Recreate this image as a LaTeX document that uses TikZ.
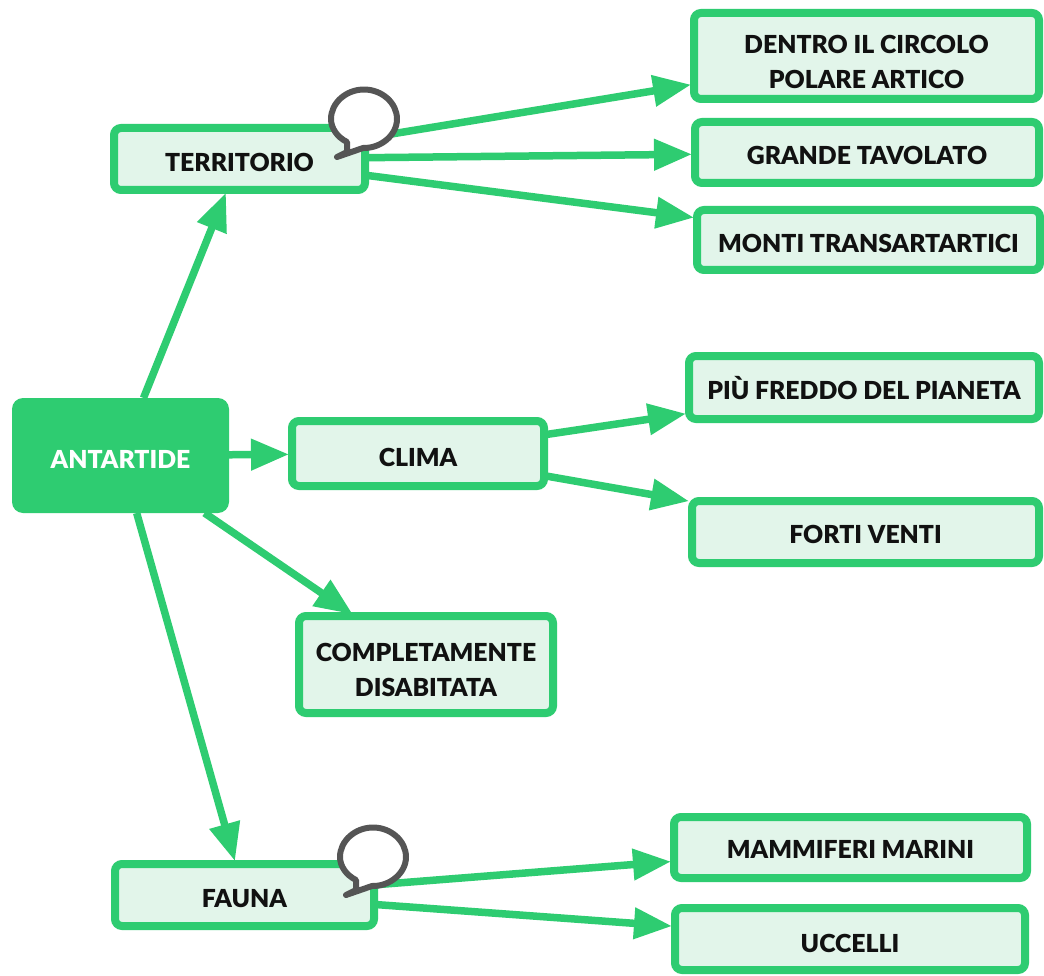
\documentclass[tikz,border=0pt]{standalone}
\usepackage{fontspec}
\setmainfont{Lato}[BoldFont={Lato Black}]
\usetikzlibrary{arrows.meta}
\definecolor{gr}{HTML}{2ECC71}
\definecolor{lgr}{HTML}{E2F5EA}
\definecolor{ink}{HTML}{111111}
\definecolor{bub}{HTML}{555555}
\newcommand{\lone}[2]{\raisebox{-#1pt}[0pt][0pt]{#2}}
\newcommand{\ltwo}[3]{\raisebox{#1pt}[0pt][0pt]{\begin{tabular}[t]{@{}c@{}}#2\\#3\end{tabular}}}
\tikzset{
  x=1pt,y=-1pt,
  box/.style={draw=gr,line width=8pt,fill=lgr,rounded corners=7pt,align=center,text=ink,
    font=\fontsize{24.8}{35}\selectfont\bfseries,outer sep=0pt,inner sep=0pt},
  root/.style={box,draw=none,fill=gr,text=white,rounded corners=11pt},
  link/.style={draw=gr,line width=7.5pt,shorten >=3pt,-{Triangle[length=38pt,width=30pt]}},
  pics/bubble/.style={code={
    \draw[bub,line width=6pt,fill=white,line join=round]
      (-1,29) .. controls (17,29.5) and (33,16) .. (33,0)
      .. controls (33,-16) and (18,-29.5) .. (0,-29.5)
      .. controls (-18,-29.5) and (-33,-16) .. (-33,0)
      .. controls (-33,9) and (-27,18) .. (-17,23)
      -- (-17,33) -- (-27,38) -- cycle;
  }}
}
\begin{document}
\begin{tikzpicture}
\useasboundingbox (0,0) rectangle (1044,976);
\fill[white] (0,0) rectangle (1044,976);
\node[root,minimum width=217pt,minimum height=115pt] (ant) at (120.5,455.5) {\lone{12.5}{ANTARTIDE}};
\node[box,minimum width=251pt,minimum height=62pt] (ter) at (239.5,159) {\lone{13}{TERRITORIO}};
\node[box,minimum width=252pt,minimum height=65pt] (cli) at (418,453.5) {\lone{13}{CLIMA}};
\node[box,minimum width=254pt,minimum height=97pt] (com) at (426,664.5) {\ltwo{3}{COMPLETAMENTE}{DISABITATA}};
\node[box,minimum width=259pt,minimum height=62pt] (fau) at (244.5,895) {\lone{12}{FAUNA}};
\node[box,minimum width=345pt,minimum height=86pt] (den) at (866.5,56) {\ltwo{2.5}{DENTRO IL CIRCOLO}{POLARE ARTICO}};
\node[box,minimum width=344pt,minimum height=61pt] (gra) at (867,152.5) {\lone{12}{GRANDE TAVOLATO}};
\node[box,minimum width=343pt,minimum height=60pt] (mon) at (868.5,240) {\lone{12.5}{MONTI TRANSARTARTICI}};
\node[box,minimum width=350pt,minimum height=63pt] (piu) at (864,387.5) {\lone{12}{PIÙ FREDDO DEL PIANETA}};
\node[box,minimum width=347pt,minimum height=62pt] (for) at (865.5,532) {\lone{11.5}{FORTI VENTI}};
\node[box,minimum width=353pt,minimum height=61pt] (mam) at (850.5,847.5) {\lone{11}{MAMMIFERI MARINI}};
\node[box,minimum width=350pt,minimum height=62pt] (ucc) at (850,939) {\lone{13}{UCCELLI}};
\draw[link] (ant) -- (ter);
\draw[link] (ant) -- (cli);
\draw[link] (ant) -- (com);
\draw[link] (ant) -- (fau);
\draw[link] (ter) -- (den);
\draw[link] (ter) -- (gra);
\draw[link] (ter) -- (mon);
\draw[link] (cli) -- (piu);
\draw[link] (cli) -- (for);
\draw[link] (fau) -- (mam);
\draw[link] (fau) -- (ucc);
\pic at (364,119) {bubble};
\pic at (373,857) {bubble};
\end{tikzpicture}
\end{document}
